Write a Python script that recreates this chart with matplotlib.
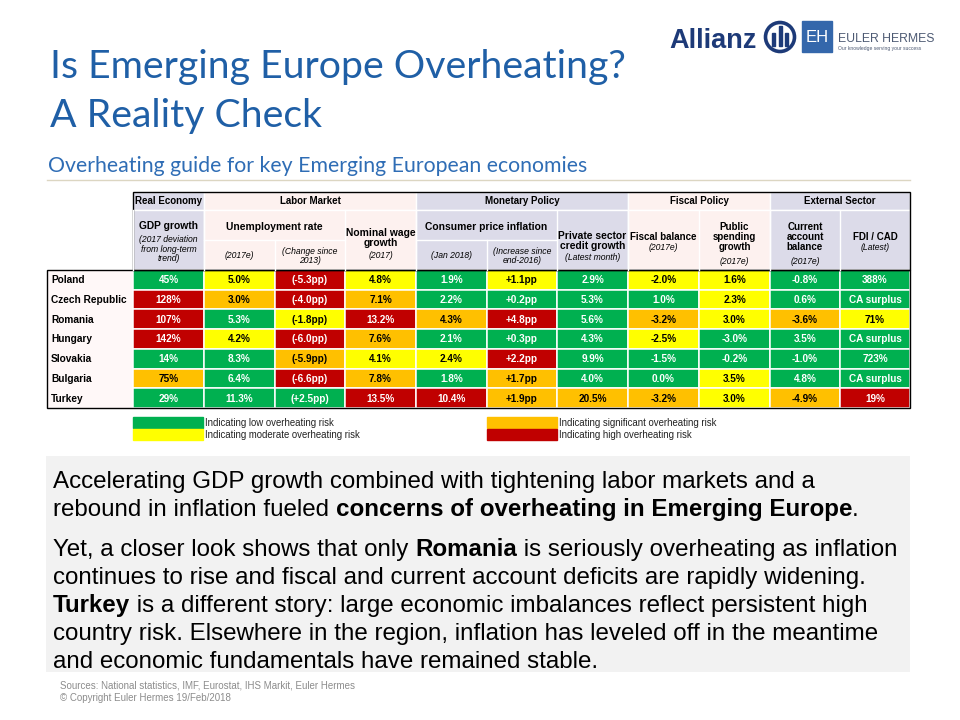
import matplotlib
matplotlib.use("Agg")
import matplotlib.pyplot as plt
from matplotlib.patches import Rectangle, Circle

# ---- data ----
countries = ["Poland", "Czech Republic", "Romania", "Hungary", "Slovakia", "Bulgaria", "Turkey"]

gdp_gap = ["45%", "128%", "107%", "142%", "14%", "75%", "29%"]
gdp_gap_risk = ["G", "R", "R", "R", "G", "O", "G"]
unemp = ["5.0%", "3.0%", "5.3%", "4.2%", "8.3%", "6.4%", "11.3%"]
unemp_risk = ["Y", "O", "G", "Y", "G", "G", "G"]
unemp_chg = ["(-5.3pp)", "(-4.0pp)", "(-1.8pp)", "(-6.0pp)", "(-5.9pp)", "(-6.6pp)", "(+2.5pp)"]
unemp_chg_risk = ["R", "R", "Y", "R", "O", "R", "G"]
wages = ["4.8%", "7.1%", "13.2%", "7.6%", "4.1%", "7.8%", "13.5%"]
wages_risk = ["Y", "O", "R", "O", "Y", "O", "R"]
cpi = ["1.9%", "2.2%", "4.3%", "2.1%", "2.4%", "1.8%", "10.4%"]
cpi_risk = ["G", "G", "O", "G", "Y", "G", "R"]
cpi_chg = ["+1.1pp", "+0.2pp", "+4.8pp", "+0.3pp", "+2.2pp", "+1.7pp", "+1.9pp"]
cpi_chg_risk = ["Y", "G", "R", "G", "R", "O", "O"]
credit = ["2.9%", "5.3%", "5.6%", "4.3%", "9.9%", "4.0%", "20.5%"]
credit_risk = ["G", "G", "G", "G", "G", "G", "O"]
fiscal = ["-2.0%", "1.0%", "-3.2%", "-2.5%", "-1.5%", "0.0%", "-3.2%"]
fiscal_risk = ["Y", "G", "O", "Y", "G", "G", "O"]
spending = ["1.6%", "2.3%", "3.0%", "-3.0%", "-0.2%", "3.5%", "3.0%"]
spending_risk = ["Y", "Y", "Y", "G", "G", "Y", "Y"]
ca = ["-0.8%", "0.6%", "-3.6%", "3.5%", "-1.0%", "4.8%", "-4.9%"]
ca_risk = ["G", "G", "O", "G", "G", "G", "O"]
fdi_cad = ["388%", "CA surplus", "71%", "CA surplus", "723%", "CA surplus", "19%"]
fdi_cad_risk = ["G", "G", "Y", "G", "G", "G", "R"]

columns = [gdp_gap, unemp, unemp_chg, wages, cpi, cpi_chg, credit,
           fiscal, spending, ca, fdi_cad]
risks = [gdp_gap_risk, unemp_risk, unemp_chg_risk, wages_risk, cpi_risk,
         cpi_chg_risk, credit_risk, fiscal_risk, spending_risk, ca_risk, fdi_cad_risk]

groups = ["Real Economy", "Labor Market", "Monetary Policy", "Fiscal Policy", "External Sector"]
group_span = [(0, 1), (1, 4), (4, 7), (7, 9), (9, 11)]

legend_codes = ["G", "Y", "O", "R"]
legend_labels = ["Indicating low overheating risk", "Indicating moderate overheating risk",
                 "Indicating significant overheating risk", "Indicating high overheating risk"]

risk_col = {"G": "#00b050", "Y": "#ffff00", "O": "#ffc000", "R": "#c00000"}
risk_txt = {"G": "white", "Y": "black", "O": "black", "R": "white"}

lav = "#dcdbe9"
pink = "#fdf1ef"

# ---- layout (pixels) ----
fig = plt.figure(figsize=(9.6, 7.2), dpi=100)
ax = fig.add_axes([0, 0, 1, 1])
ax.set_xlim(0, 960)
ax.set_ylim(720, 0)
ax.axis("off")

ARIAL = "Liberation Sans"
TITLE = "Lato"

# title block
ax.text(50, 78, "Is Emerging Europe Overheating?", fontsize=28.3, family=TITLE,
        color="#1f5fa6", va="baseline")
ax.text(50, 127, "A Reality Check", fontsize=28.3, family=TITLE,
        color="#1f5fa6", va="baseline")
ax.text(48, 172, "Overheating guide for key Emerging European economies", fontsize=15.3,
        family=TITLE, color="#2f6db5", va="baseline")
ax.plot([47, 910], [180, 180], color="#dcd6c2", lw=1)

# logos
ax.text(669, 48, "Allianz", fontsize=19.5, fontweight="bold", family=ARIAL,
        color="#1d3a78", va="baseline")
ax.add_patch(Circle((780, 37), 14.5, fill=False, ec="#1d3a78", lw=2.6))
for bx, top in [(772, 33), (778.5, 26), (785, 33)]:
    ax.add_patch(Rectangle((bx, top), 3.2, 46 - top, color="#1d3a78"))
ax.add_patch(Rectangle((802, 21), 30, 31, color="#3467ab"))
ax.text(817, 37, "EH", fontsize=12, color="white", ha="center", va="center",
        family=ARIAL, fontweight="light")
ax.text(838, 42, "EULER HERMES", fontsize=8.8, color="#4d5a73", family=ARIAL,
        va="baseline")
ax.text(838, 50, "Our knowledge serving your success", fontsize=3.6, color="#4d5a73",
        family=ARIAL, va="baseline")

# table geometry
edges = [47, 133, 204, 275, 345, 416, 487, 557, 628, 699, 770, 840, 910]
head_top, head_mid, head_bot = 192, 210, 270
row_h = (408 - head_bot) / len(countries)


def txt(x, y, s, size=7.5, bold=False, italic=False, ha="center", va="center", color="black"):
    ax.text(x, y, s, fontsize=size, family=ARIAL, ha=ha, va=va, color=color,
            fontweight="bold" if bold else "normal",
            fontstyle="italic" if italic else "normal", linespacing=1.05)


# header backgrounds
for gi, (a, b) in enumerate(group_span):
    fc = lav if gi % 2 == 0 else pink
    x0, x1 = edges[a + 1], edges[b + 1]
    ax.add_patch(Rectangle((x0, head_top), x1 - x0, head_mid - head_top, fc=fc, ec="white", lw=1))
    ax.add_patch(Rectangle((x0, head_mid), x1 - x0, head_bot - head_mid, fc=fc, ec="white", lw=1))
    txt((x0 + x1) / 2, (head_top + head_mid) / 2 + 0.5, groups[gi], size=7, bold=True)

# sub-header white separators
for c in (3, 6):
    ax.plot([edges[c], edges[c]], [240, head_bot], color="white", lw=1)
for c in [1, 2, 4, 5, 7, 8, 9, 10, 11]:
    ax.plot([edges[c], edges[c]], [head_mid, head_bot], color="white", lw=1)
ax.plot([edges[2], edges[4]], [240, 240], color="white", lw=1)
ax.plot([edges[5], edges[7]], [240, 240], color="white", lw=1)


def cx(i):
    return (edges[i + 1] + edges[i + 2]) / 2


HB = 7.4
SI = 6.2
txt(cx(0), 226, "GDP growth", size=HB, bold=True)
txt(cx(0), 249, "(2017 deviation\nfrom long-term\ntrend)", size=SI, italic=True)
txt((edges[2] + edges[4]) / 2, 227, "Unemployment rate", size=HB, bold=True)
txt(cx(1), 256, "(2017e)", size=SI, italic=True)
txt(cx(2), 256, "(Change since\n2013)", size=SI, italic=True)
txt(cx(3), 238, "Nominal wage\ngrowth", size=HB, bold=True)
txt(cx(3), 255, "(2017)", size=SI, italic=True)
txt((edges[5] + edges[7]) / 2, 227, "Consumer price inflation", size=HB, bold=True)
txt(cx(4), 256, "(Jan 2018)", size=SI, italic=True)
txt(cx(5), 256, "(Increase since\nend-2016)", size=SI, italic=True)
txt(cx(6), 241, "Private sector\ncredit growth", size=HB, bold=True)
txt(cx(6), 257, "(Latest month)", size=SI, italic=True)
txt(cx(7), 237, "Fiscal balance", size=7, bold=True)
txt(cx(7), 248, "(2017e)", size=SI, italic=True)
txt(cx(8), 237, "Public\nspending\ngrowth", size=7, bold=True)
txt(cx(8), 262, "(2017e)", size=SI, italic=True)
txt(cx(9), 237, "Current\naccount\nbalance", size=7, bold=True)
txt(cx(9), 262, "(2017e)", size=SI, italic=True)
txt(cx(10), 237, "FDI / CAD", size=7, bold=True)
txt(cx(10), 248, "(Latest)", size=SI, italic=True)

# body
ax.add_patch(Rectangle((edges[0], head_bot), edges[1] - edges[0], 408 - head_bot,
                       fc="#fff8f8", lw=0))
for r, name in enumerate(countries):
    y0 = head_bot + r * row_h
    txt(edges[0] + 4, y0 + row_h / 2 + 0.5, name, size=7.3, bold=True, ha="left")
    for c, (vals, rk) in enumerate(zip(columns, risks)):
        x0, x1 = edges[c + 1], edges[c + 2]
        ax.add_patch(Rectangle((x0, y0), x1 - x0, row_h, fc=risk_col[rk[r]], ec="white", lw=1.1))
        txt((x0 + x1) / 2, y0 + row_h / 2 + 0.5, vals[r], size=7.2, bold=True,
            color=risk_txt[rk[r]])

# black outlines
ax.add_patch(Rectangle((edges[1], head_top), edges[-1] - edges[1], head_bot - head_top,
                       fill=False, ec="black", lw=1))
ax.add_patch(Rectangle((edges[0], head_bot), edges[-1] - edges[0], 408 - head_bot,
                       fill=False, ec="black", lw=1))

# legend
for i, (code, lab) in enumerate(zip(legend_codes, legend_labels)):
    lx = edges[1] if i < 2 else edges[6]
    ly = 417 + (i % 2) * 12
    ax.add_patch(Rectangle((lx, ly), 70, 11, color=risk_col[code]))
    txt(lx + 72, ly + 6, lab, size=6.9, ha="left", color="#222222")

# commentary box
ax.add_patch(Rectangle((46, 456), 864, 216, color="#f2f2f2", lw=0))

BODY = 17.4
lines = [
    (488, [("Accelerating GDP growth combined with tightening labor markets and a", False)]),
    (516, [("rebound in inflation fueled ", False),
           ("concerns of overheating in Emerging Europe", True), (".", False)]),
    (556, [("Yet, a closer look shows that only ", False), ("Romania", True),
           (" is seriously overheating as inflation", False)]),
    (584, [("continues to rise and fiscal and current account deficits are rapidly widening.", False)]),
    (612, [("Turkey", True), (" is a different story: large economic imbalances reflect persistent high", False)]),
    (640, [("country risk. Elsewhere in the region, inflation has leveled off in the meantime", False)]),
    (668, [("and economic fundamentals have remained stable.", False)]),
]

fig.canvas.draw()
rend = fig.canvas.get_renderer()


def width(s, bold):
    t = ax.text(0, 0, s, fontsize=BODY, family=ARIAL, fontweight="bold" if bold else "normal")
    w = t.get_window_extent(renderer=rend).width
    t.remove()
    return w


for yb, segs in lines:
    x = 53
    for s, b in segs:
        ax.text(x, yb, s, fontsize=BODY, family=ARIAL, va="baseline", color="black",
                fontweight="bold" if b else "normal")
        x += width("|" + s + "|", b) - width("||", b)

# footer
txt(60, 685, "Sources: National statistics, IMF, Eurostat, IHS Markit, Euler Hermes",
    size=7, ha="left", color="#8c8c8c")
txt(60, 698, "\u00a9 Copyright Euler Hermes 19/Feb/2018", size=7, ha="left", color="#8c8c8c")

fig.savefig("out.png", dpi=100, facecolor="white")
